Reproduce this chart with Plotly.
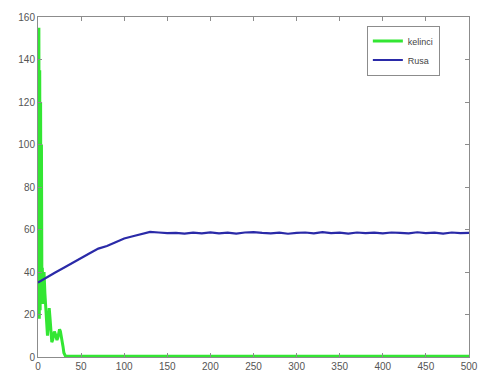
import plotly.graph_objects as go

# Kelinci (rabbit) population
kelinci_t = [0, 0.5, 1, 1.5, 2, 2.5, 3, 3.5, 4, 4.5, 5, 6, 7, 8, 9, 10, 11, 12, 13, 14, 15,
             16, 17, 18, 19, 20, 21, 22, 23, 24, 25, 26, 27, 28, 29, 30, 31, 32, 35, 500]
kelinci_v = [150, 20, 155, 18, 135, 22, 120, 28, 100, 35, 42, 25, 40, 30, 22, 12, 10, 16, 23, 18,
             10, 7, 8, 10, 12, 11, 9, 8, 9, 11, 13, 12, 10, 8, 5, 2, 0.5, 0.3, 0.3, 0.3]

# Rusa (deer) population
rusa_t = list(range(0, 501, 10))
rusa_v = [35, 37.5, 39.8, 42.0, 44.4, 46.6, 48.8, 51.0, 52.2, 54.0,
          55.8, 56.8, 58.0, 58.9, 58.6, 58.3, 58.4, 58.1, 58.5, 58.2,
          58.6, 58.2, 58.5, 58.1, 58.6, 58.8, 58.4, 58.2, 58.5, 58.0,
          58.4, 58.6, 58.2, 58.8, 58.3, 58.5, 58.1, 58.6, 58.3, 58.5,
          58.2, 58.6, 58.4, 58.2, 58.7, 58.3, 58.5, 58.1, 58.6, 58.3, 58.4]

x_ticks = [0, 50, 100, 150, 200, 250, 300, 350, 400, 450, 500]
y_ticks = [0, 20, 40, 60, 80, 100, 120, 140, 160]

fig = go.Figure()
fig.add_trace(go.Scatter(x=kelinci_t, y=kelinci_v, mode="lines", name="kelinci",
                         line=dict(color="#33e633", width=3)))
fig.add_trace(go.Scatter(x=rusa_t, y=rusa_v, mode="lines", name="Rusa",
                         line=dict(color="#2a2aa8", width=2.2)))

axis_common = dict(showgrid=False, zeroline=False, showline=True, linecolor="#8c8c8c",
                   linewidth=1, mirror="ticks", ticks="inside", ticklen=4, automargin=False,
                   tickcolor="#8c8c8c", tickfont=dict(family="Liberation Sans, Arial", size=10,
                                                     color="#555555"))
fig.update_xaxes(range=[0, 500], tickvals=x_ticks, **axis_common)
fig.update_yaxes(range=[0, 160], tickvals=y_ticks, **axis_common)

fig.update_layout(
    width=480, height=381,
    margin=dict(l=38, r=11, t=17, b=24),
    paper_bgcolor="white", plot_bgcolor="white",
    showlegend=True,
    legend=dict(x=0.763, y=0.975, xanchor="left", yanchor="top",
                bgcolor="white", bordercolor="#8c8c8c", borderwidth=1,
                font=dict(family="Liberation Sans, Arial", size=9, color="#444444"),
                tracegroupgap=0, itemwidth=30),
)

fig.write_html("out.html", config={"displayModeBar": False},
               post_script="document.body.style.margin='0px';")
